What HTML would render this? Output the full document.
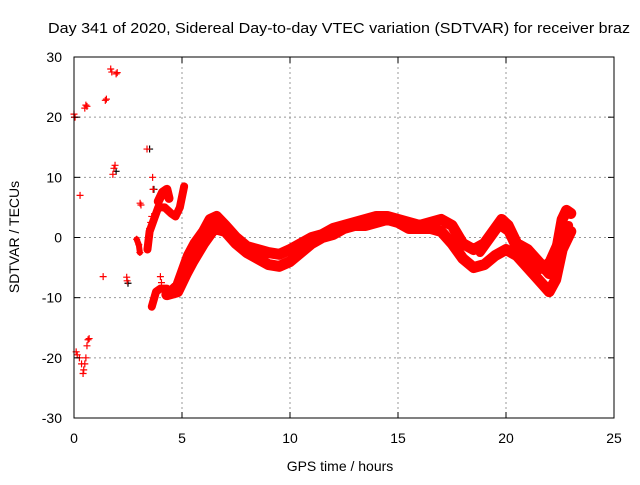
<!DOCTYPE html>
<html><head><meta charset="utf-8"><style>
body{margin:0;background:#fff}
svg{font-family:"Liberation Sans",sans-serif}
</style></head><body>
<svg id="c" width="640" height="480">
<rect width="640" height="480" fill="#fff"/>
<text x="339" y="33" text-anchor="middle" font-size="15" textLength="582" lengthAdjust="spacingAndGlyphs">Day 341 of 2020, Sidereal Day-to-day VTEC variation (SDTVAR) for receiver braz</text>
<g id="grid"></g>
<g id="marks"></g>
<rect x="74" y="57" width="540" height="361" fill="none" stroke="#000" stroke-width="1"/>
<g id="axes"></g>
<text x="340" y="471" text-anchor="middle" font-size="14">GPS time / hours</text>
<text transform="translate(19,237) rotate(-90)" text-anchor="middle" font-size="14">SDTVAR / TECUs</text>
</svg>
<script>
const xTicks=[0,5,10,15,20,25];
const yTicks=[-30,-20,-10,0,10,20,30];
const track1H=[4.5,4.8,5.0,5.3,5.6,6.0,6.3,6.6,7.0,7.5,8.0,8.5,9.0,9.5,10.0,10.5,11,11.5,12,12.5,13,13.5,14,14.5,15,15.5,16,16.5,17,17.5,18,18.5,19,19.5,19.8,20.1,20.5,21,21.5,22,22.3,22.6,22.8,23];
const track1V=[-9,-8,-6,-3,-1,1,3,3.5,2,0,-1.5,-2,-2.5,-2.8,-2,-1,0,0.5,1.5,2,2.5,3,3.5,3.5,3,2.5,2,2.5,3,2,-1,-2,-1,1.5,3,2,-1,-2,-4,-6,-3,3,4.5,4];
const track2H=[4.3,4.8,5.2,5.5,6.0,6.5,7,7.5,8,8.5,9,9.5,10,10.5,11,11.5,12,12.5,13,13.5,14,14.5,15,15.5,16,16.5,17,17.5,18,18.5,19,19.5,20,20.5,21,21.5,22,22.3,22.6,23];
const track2V=[-9.5,-9,-6,-4,-1,1.5,1,-1,-2.5,-3.5,-4.5,-4.8,-4,-2.5,-1,0,0.5,1.5,2,2,2.5,3,2.5,1.5,1.5,1.5,1,-1,-3.5,-5,-4.5,-3,-2,-3,-5,-7,-9,-7,-2,1];
const track3H=[18.8,19.3,19.7,20.1,20.5,21,21.5,22,22.5,22.9];
const track3V=[-2.5,0,2,1,-2,-4,-5.5,-4,0,2];
const track4H=[3.6,3.8,4.0,4.3];
const track4V=[-11.5,-9,-8.5,-8.5];
const track5H=[3.4,3.5,3.7,3.9,4.2,4.5,4.7,4.9,5.1];
const track5V=[-2,1,3,5,5,4,3.5,5,8.5];
const track6H=[3.9,4.1,4.3,4.4];
const track6V=[6,7.5,8,6.5];
const track7H=[2.9,3.0,3.05];
const track7V=[-0.3,-1.2,-2.5];
const scatterH=[0,0.05,0.5,0.55,0.6,1.45,1.5,1.7,1.75,1.95,2.0,3.38,0.28,1.8,1.85,1.9,3.64,3.66,3.06,3.1,1.35,2.44,2.46,0.1,0.15,0.25,0.35,0.42,0.45,0.5,0.55,0.6,0.65,0.7,3.45,3.5,3.55,3.6,4.0,4.05];
const scatterV=[20.5,20,21.5,22,21.8,22.8,23,28,27.5,27.2,27.4,14.7,7,10.5,11.5,12,10,8,5.7,5.4,-6.5,-6.6,-7.2,-19,-19.5,-20,-21,-22.6,-22,-21,-20,-18,-17,-16.8,-0.5,1.5,2.5,3.5,-6.5,-7.5];
const blackH=[3.5,1.95,2.5,3.7,0.02];
const blackV=[14.7,11,-7.6,8,20];

const NS="http://www.w3.org/2000/svg";
const x0=74,x1=614,y0=418,y1=57;
function sx(h){return x0+(h-0)/(25-0)*(x1-x0);}
function sy(v){return y0-(v+30)/60*(y0-y1);}
function mk(t,a){const e=document.createElementNS(NS,t);for(const k in a)e.setAttribute(k,a[k]);return e;}
const grid=document.getElementById('grid'),axes=document.getElementById('axes'),marks=document.getElementById('marks');
xTicks.forEach(t=>{
  if(t>0&&t<25){const l=mk('line',{x1:sx(t),x2:sx(t),y1:y1,y2:y0,stroke:'#999','stroke-dasharray':'2,3'});
  
  
  grid.appendChild(l);}
  const k=mk('line',{x1:sx(t),x2:sx(t),y1:y0,y2:y0-6,stroke:'#000'});
  
  
  axes.appendChild(k);
  const k2=mk('line',{x1:sx(t),x2:sx(t),y1:y1,y2:y1+6,stroke:'#000'});
  
  
  axes.appendChild(k2);
  const tx=mk('text',{x:sx(t),y:443,'text-anchor':'middle','font-size':14});
  tx.textContent=t;
  
  
  axes.appendChild(tx);
});
yTicks.forEach(t=>{
  if(t>-30&&t<30){const l=mk('line',{x1:x0,x2:x1,y1:sy(t),y2:sy(t),stroke:'#999','stroke-dasharray':'2,3'});
  
  
  grid.appendChild(l);}
  const k=mk('line',{x1:x0,x2:x0+6,y1:sy(t),y2:sy(t),stroke:'#000'});
  
  
  axes.appendChild(k);
  const k2=mk('line',{x1:x1,x2:x1-6,y1:sy(t),y2:sy(t),stroke:'#000'});
  
  
  axes.appendChild(k2);
  const tx=mk('text',{x:62,y:sy(t)+5,'text-anchor':'end','font-size':14});
  tx.textContent=t;
  
  
  axes.appendChild(tx);
});
function plus(h,v,col){
  const X=sx(h),Y=sy(v);
  const p=mk('path',{d:`M${X-3.5},${Y}h7M${X},${Y-3.5}v7`,stroke:col,'stroke-width':1.2,fill:'none'});
  
  
  marks.appendChild(p);
}
function track(H,V,w){
  const pts=H.map((h,i)=>sx(h)+','+sy(V[i])).join(' ');
  const pl=mk('polyline',{points:pts,fill:'none',stroke:'#f00','stroke-width':w,'stroke-linejoin':'round','stroke-linecap':'round'});
  
  
  marks.appendChild(pl);
  H.forEach((h,i)=>plus(h,V[i],'#f00'));
}
blackH.forEach((h,i)=>plus(h,blackV[i],'#000'));
track(track1H,track1V,11);
track(track2H,track2V,11);
track(track3H,track3V,9);
track(track4H,track4V,8);
track(track5H,track5V,8);
track(track6H,track6V,9);
track(track7H,track7V,6);
scatterH.forEach((h,i)=>plus(h,scatterV[i],'#f00'));
</script>
</body></html>
